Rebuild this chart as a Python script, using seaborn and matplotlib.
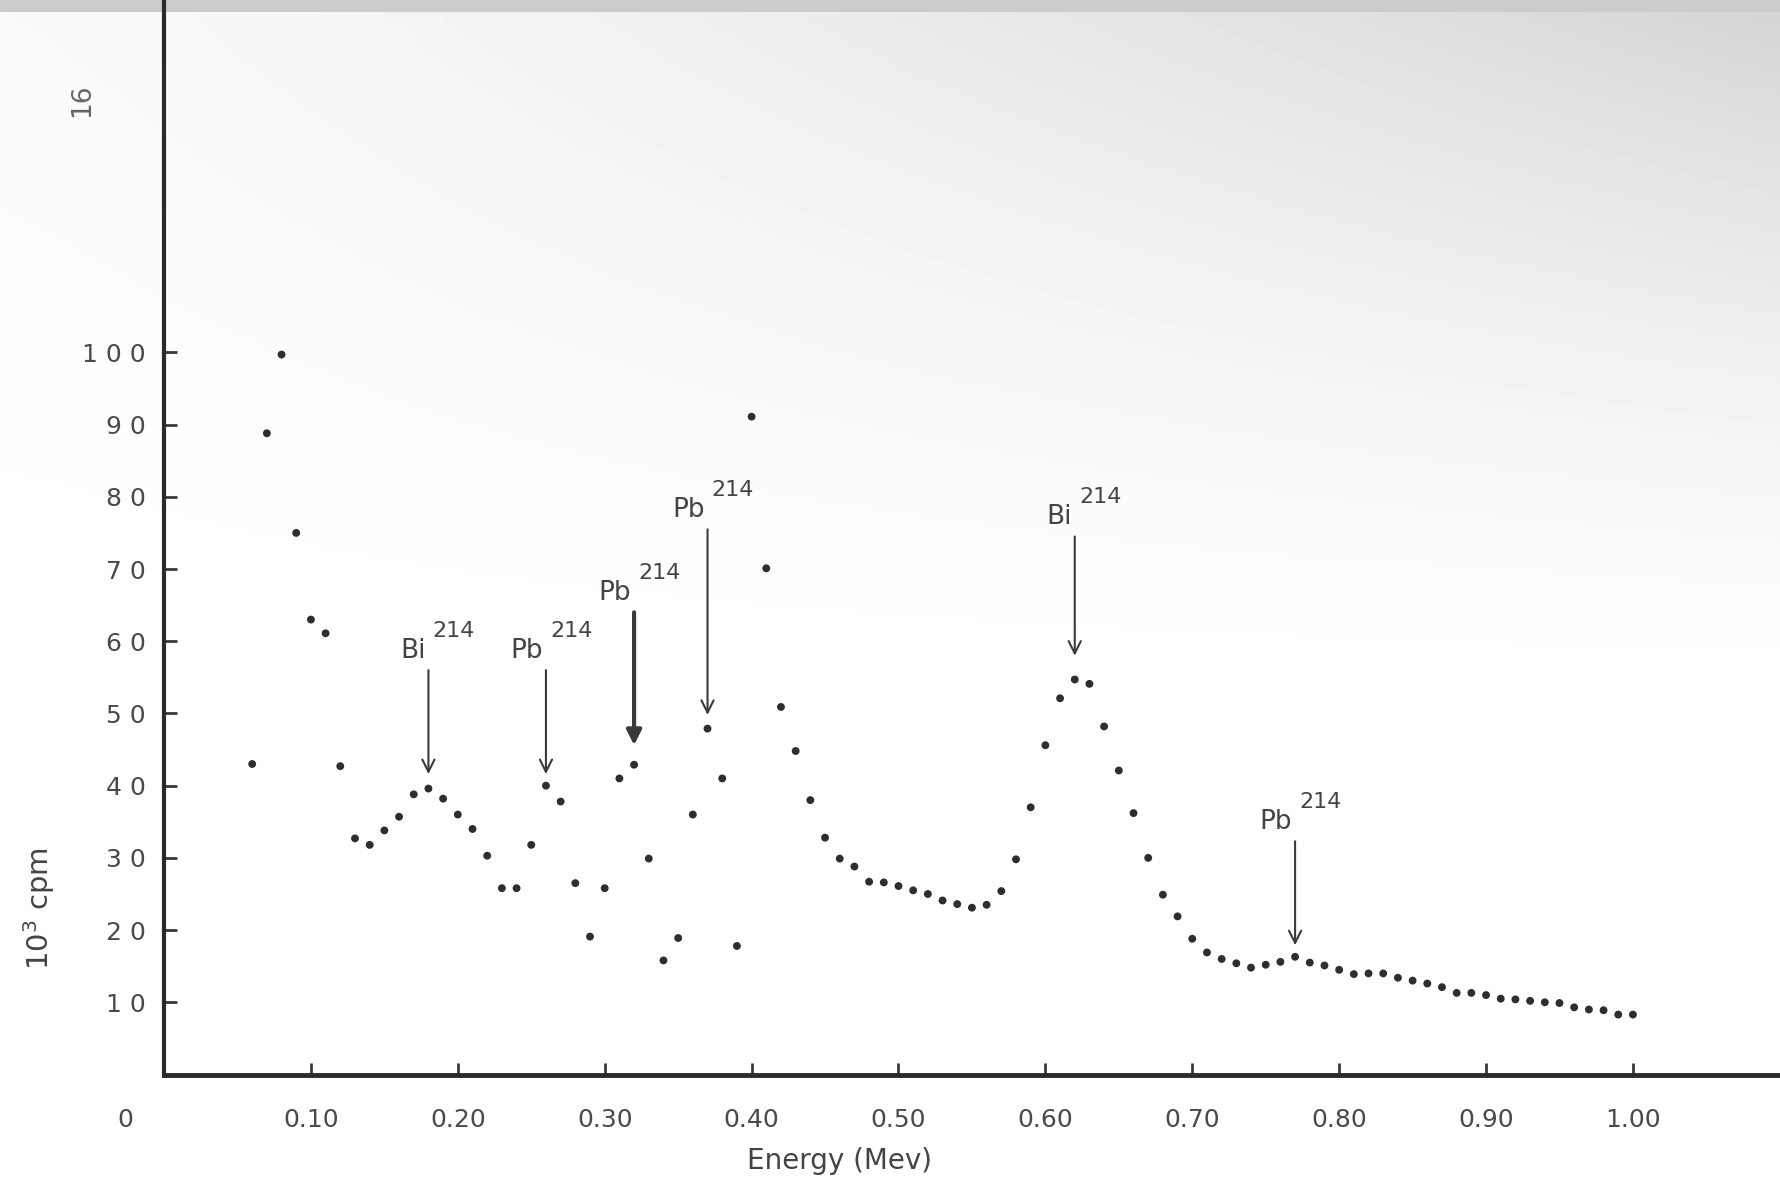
"""Gamma spectrum of radon daughters, dots with labelled peaks."""

import numpy as np
import pandas as pd

import seaborn as sns
import matplotlib.pyplot as plt

###################################################################################################
###################################################################################################

energy = [0.06, 0.07, 0.08, 0.09, 0.10, 0.11, 0.12, 0.13, 0.14, 0.15,
          0.16, 0.17, 0.18, 0.19, 0.20, 0.21, 0.22, 0.23, 0.24, 0.25,
          0.26, 0.27, 0.28, 0.29, 0.30, 0.31, 0.32, 0.33, 0.34, 0.35,
          0.36, 0.37, 0.38, 0.39, 0.40, 0.41, 0.42, 0.43, 0.44, 0.45,
          0.46, 0.47, 0.48, 0.49, 0.50, 0.51, 0.52, 0.53, 0.54, 0.55,
          0.56, 0.57, 0.58, 0.59, 0.60, 0.61, 0.62, 0.63, 0.64, 0.65,
          0.66, 0.67, 0.68, 0.69, 0.70, 0.71, 0.72, 0.73, 0.74, 0.75,
          0.76, 0.77, 0.78, 0.79, 0.80, 0.81, 0.82, 0.83, 0.84, 0.85,
          0.86, 0.87, 0.88, 0.89, 0.90, 0.91, 0.92, 0.93, 0.94, 0.95,
          0.96, 0.97, 0.98, 0.99, 1.00]

counts = [43.0, 88.8, 99.7, 75.0, 63.0, 61.1, 42.7, 32.7, 31.8, 33.8,
          35.7, 38.8, 39.6, 38.2, 36.0, 34.0, 30.3, 25.8, 25.8, 31.8,
          40.0, 37.8, 26.5, 19.1, 25.8, 41.0, 42.9, 29.9, 15.8, 18.9,
          36.0, 47.9, 41.0, 17.8, 91.1, 70.1, 50.9, 44.8, 38.0, 32.8,
          29.9, 28.8, 26.7, 26.6, 26.1, 25.5, 25.0, 24.1, 23.6, 23.1,
          23.5, 25.4, 29.8, 37.0, 45.6, 52.1, 54.7, 54.1, 48.2, 42.1,
          36.2, 30.0, 24.9, 21.9, 18.8, 16.9, 16.0, 15.4, 14.8, 15.2,
          15.6, 16.3, 15.5, 15.1, 14.5, 13.9, 14.0, 14.0, 13.4, 13.0,
          12.6, 12.1, 11.3, 11.3, 11.0, 10.5, 10.4, 10.2, 10.0, 9.9,
          9.3, 9.0, 8.9, 8.3, 8.3]

x_ticks = [0.10, 0.20, 0.30, 0.40, 0.50, 0.60, 0.70, 0.80, 0.90, 1.00]
x_tick_labels = ['0.10', '0.20', '0.30', '0.40', '0.50', '0.60', '0.70', '0.80', '0.90', '1.00']
y_ticks = [10, 20, 30, 40, 50, 60, 70, 80, 90, 100]

# Labelled peaks: element, energy, arrow tail / tip heights
peak_element = ['Bi', 'Pb', 'Pb', 'Pb', 'Bi', 'Pb']
peak_energy = [0.18, 0.26, 0.32, 0.37, 0.62, 0.77]
arrow_tail = [56.0, 56.0, 64.0, 75.5, 74.5, 32.3]
arrow_tip = [41.6, 41.6, 45.6, 49.8, 58.0, 17.9]
mass_number = '214'

###################################################################################################
###################################################################################################

INK = '#3a3a3a'
FONT = 'DejaVu Sans'

sns.set_style('ticks')
plt.rcParams['font.family'] = [FONT]

fig = plt.figure(figsize=(17.81, 11.8), dpi=100)

# Faint grey shading of the scanned page, darker toward the top right
bg = fig.add_axes([0, 0, 1, 1], zorder=-10)
gx, gy = np.meshgrid(np.linspace(0, 1, 300), np.linspace(0, 1, 300))
shade = 1 - (0.02 + 0.15 * gx ** 1.3) * np.clip(1 - gy / 0.6, 0, 1) ** 1.5
shade[gy < 0.007] = 0.80
bg.imshow(shade, cmap='gray', vmin=0, vmax=1, aspect='auto', extent=[0, 1, 1, 0])
bg.set_axis_off()

ax = fig.add_axes([0.0921, 0.0894, 0.9079, 0.9106])
ax.patch.set_alpha(0)

df = pd.DataFrame({'energy': energy, 'counts': counts})
sns.scatterplot(data=df, x='energy', y='counts', ax=ax, s=32,
                color='#2e2e2e', edgecolor='none', zorder=3)

ax.set_xlim(0, 1.1008)
ax.set_ylim(0, 148.8)

ax.set_xticks(x_ticks)
ax.set_xticklabels(x_tick_labels)
ax.set_yticks(y_ticks)
ax.set_yticklabels([' '.join(str(v)) for v in y_ticks])

ax.set_xlabel('')
ax.set_ylabel('')

ax.tick_params(axis='both', direction='in', length=9, width=2, color=INK,
               labelcolor='#4a4a4a', labelsize=18)
ax.tick_params(axis='x', pad=24)
ax.tick_params(axis='y', pad=13)

# Frame: only left & bottom
ax.spines['right'].set_visible(False)
ax.spines['top'].set_visible(False)
ax.spines['left'].set_linewidth(3)
ax.spines['bottom'].set_linewidth(3.5)
ax.spines['left'].set_color('#2a2a2a')
ax.spines['bottom'].set_color('#2a2a2a')

# Peak labels with arrows
for ind, (elem, en) in enumerate(zip(peak_element, peak_energy)):
    thick = ind == 2
    ax.annotate('', xy=(en, arrow_tip[ind]), xytext=(en, arrow_tail[ind]),
                arrowprops=dict(arrowstyle='-|>' if thick else '->',
                                lw=3 if thick else 1.5, color=INK,
                                mutation_scale=22, shrinkA=0, shrinkB=0))
    ax.annotate(elem, xy=(en, arrow_tail[ind]), xytext=(-2, 9),
                textcoords='offset points', ha='right', va='baseline',
                fontsize=19, color='#444444')
    ax.annotate(mass_number, xy=(en, arrow_tail[ind]), xytext=(3, 24),
                textcoords='offset points', ha='left', va='baseline',
                fontsize=16, color='#444444')

# Origin label, axis titles, page number
ax.annotate('0', xy=(0, 0), xytext=(-28, -33), textcoords='offset points',
            ha='center', va='center', fontsize=18, color='#4a4a4a')
fig.text(0.4715, 0.016, 'Energy (Mev)', ha='center', va='center',
         fontsize=20, color='#444444')
fig.text(0.022, 0.23, '10$^3$ cpm', rotation=90, ha='center', va='center',
         fontsize=21, color='#444444')
fig.text(0.046, 0.915, '16', rotation=90, ha='center', va='center',
         fontsize=19, color='#666666')

fig.savefig('out.png', dpi=100)
